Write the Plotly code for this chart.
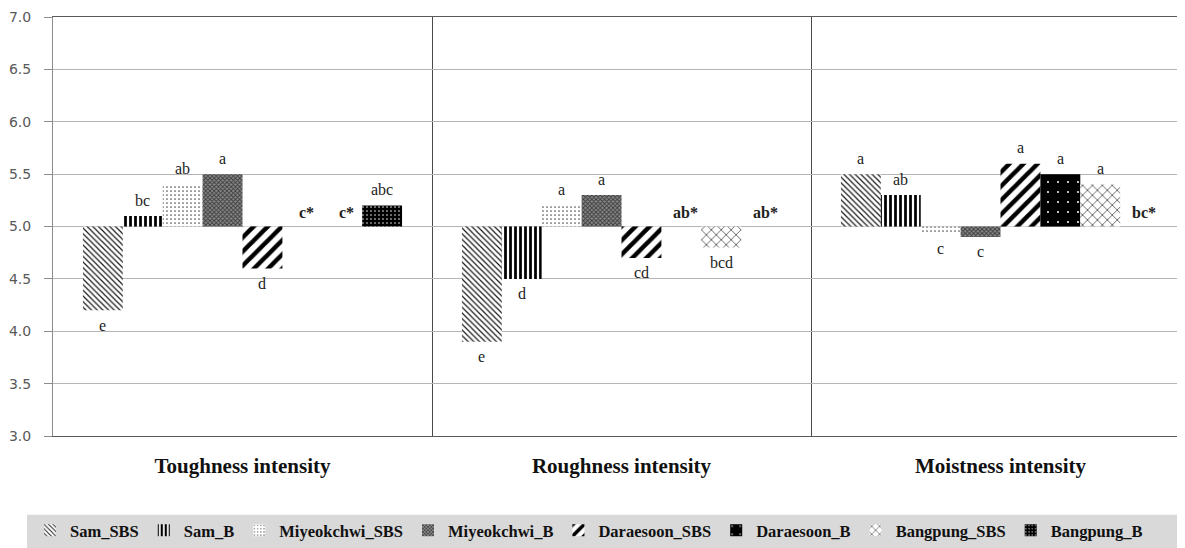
import plotly.graph_objects as go

# ---- data ----
groups = ["Toughness intensity", "Roughness intensity", "Moistness intensity"]
series_names = ["Sam_SBS", "Sam_B", "Miyeokchwi_SBS", "Miyeokchwi_B",
                "Daraesoon_SBS", "Daraesoon_B", "Bangpung_SBS", "Bangpung_B"]

sam_sbs = [4.2, 3.9, 5.5]
sam_b = [5.1, 4.5, 5.3]
miyeokchwi_sbs = [5.4, 5.2, 4.93]
miyeokchwi_b = [5.5, 5.3, 4.9]
daraesoon_sbs = [4.6, 4.7, 5.6]
daraesoon_b = [5.0, 5.0, 5.5]
bangpung_sbs = [5.0, 4.8, 5.4]
bangpung_b = [5.2, 5.0, 5.0]

sam_sbs_lbl = ["e", "e", "a"]
sam_b_lbl = ["bc", "d", "ab"]
miyeokchwi_sbs_lbl = ["ab", "a", "c"]
miyeokchwi_b_lbl = ["a", "a", "c"]
daraesoon_sbs_lbl = ["d", "cd", "a"]
daraesoon_b_lbl = ["c*", "ab*", "a"]
bangpung_sbs_lbl = ["c*", "bcd", "a"]
bangpung_b_lbl = ["abc", "ab*", "bc*"]

baseline = 5.0
y_ticks = [3.0, 3.5, 4.0, 4.5, 5.0, 5.5, 6.0, 6.5, 7.0]

values = [sam_sbs, sam_b, miyeokchwi_sbs, miyeokchwi_b,
          daraesoon_sbs, daraesoon_b, bangpung_sbs, bangpung_b]
labels = [sam_sbs_lbl, sam_b_lbl, miyeokchwi_sbs_lbl, miyeokchwi_b_lbl,
          daraesoon_sbs_lbl, daraesoon_b_lbl, bangpung_sbs_lbl, bangpung_b_lbl]

# ---- styles ----
patterns = [
    dict(shape="\\", fgcolor="#1a1a1a", bgcolor="white", size=4, solidity=0.3, fgopacity=1),
    dict(shape="|", fgcolor="black", bgcolor="white", size=5, solidity=0.55, fgopacity=1),
    dict(shape=".", fgcolor="#555555", bgcolor="white", size=4, solidity=0.15, fgopacity=1),
    dict(shape="x", fgcolor="#3a3a3a", bgcolor="#8a8a8a", size=3, solidity=0.5, fgopacity=1),
    dict(shape="/", fgcolor="black", bgcolor="white", size=10, solidity=0.45, fgopacity=1),
    dict(shape=".", fgcolor="white", bgcolor="black", size=10, solidity=0.03, fgopacity=1),
    dict(shape="x", fgcolor="#222222", bgcolor="white", size=7, solidity=0.18, fgopacity=1),
    dict(shape=".", fgcolor="white", bgcolor="black", size=4, solidity=0.12, fgopacity=1),
]

n = len(series_names)
bargap = 0.158
w = (1 - bargap) / n

fig = go.Figure()
annotations = []
for i, name in enumerate(series_names):
    xs = [g + (i - (n - 1) / 2) * w for g in range(len(groups))]
    ys = [v - baseline for v in values[i]]
    fig.add_trace(go.Bar(
        x=xs, y=ys, base=baseline, width=w, name=name,
        marker=dict(color="white", line=dict(width=0), pattern=patterns[i]),
        hoverinfo="skip",
    ))
    for x, v, lab in zip(xs, values[i], labels[i]):
        star = lab.endswith("*")
        if star:
            ysh = 14
        elif v >= baseline:
            ysh = 16
        else:
            ysh = -15
        annotations.append(dict(
            x=x, y=v, xref="x", yref="y", text=("<b>%s</b>" % lab) if star else lab,
            showarrow=False, yshift=ysh, xshift=4 if star else 0,
            font=dict(family="Liberation Serif", size=16, color="#222222"),
        ))

# figure geometry (page body adds an 8px offset)
W, H = 1177, 540
ML, MT, MB = 45, 9, 111
plot_w = W - ML
plot_h = H - MT - MB
group_px = 379
plot_bottom = H - MB


def px_x(sx):
    return (sx - 8 - ML) / plot_w


def px_y(sy):
    return (plot_bottom - (sy - 8)) / plot_h


# legend gray band
shapes = [dict(type="rect", xref="paper", yref="paper",
               x0=px_x(27), x1=1.05, y0=px_y(560), y1=px_y(516),
               fillcolor="#d9d9d9", line=dict(width=0), layer="below")]

fig.update_layout(
    width=W, height=H,
    margin=dict(l=ML, r=0, t=MT, b=MB),
    plot_bgcolor="white", paper_bgcolor="white",
    barmode="overlay",
    showlegend=True,
    annotations=annotations,
    shapes=shapes,
    legend=dict(orientation="h", x=px_x(30), xanchor="left",
                y=px_y(532), yanchor="middle",
                font=dict(family="Liberation Serif", size=16.5, color="#111111", weight="bold"),
                bgcolor="rgba(0,0,0,0)", itemwidth=30, traceorder="normal",
                itemclick=False),
    xaxis=dict(
        range=[-0.5, -0.5 + plot_w / group_px],
        tickmode="array", tickvals=list(range(len(groups))), ticktext=groups,
        ticks="", showgrid=False, zeroline=False,
        showline=True, linecolor="#5a5a5a", linewidth=1, mirror=True,
        tickfont=dict(family="Liberation Serif", size=21, color="#111111", weight="bold"),
        ticklabelstandoff=11,
        minor=dict(tick0=0.5, dtick=1, showgrid=True, gridcolor="#4a4a4a", gridwidth=1, ticks=""),
    ),
    yaxis=dict(
        range=[3, 7], tickmode="array", tickvals=y_ticks, tickformat=".1f",
        showgrid=True, gridcolor="#b5b5b5", gridwidth=1, zeroline=False,
        showline=True, linecolor="#8c8c8c", linewidth=1,
        ticks="outside", ticklen=8, tickcolor="#8c8c8c",
        tickfont=dict(family="DejaVu Sans", size=14, color="#595959"),
        ticklabelstandoff=10,
    ),
)

fig.write_html("out.html")
